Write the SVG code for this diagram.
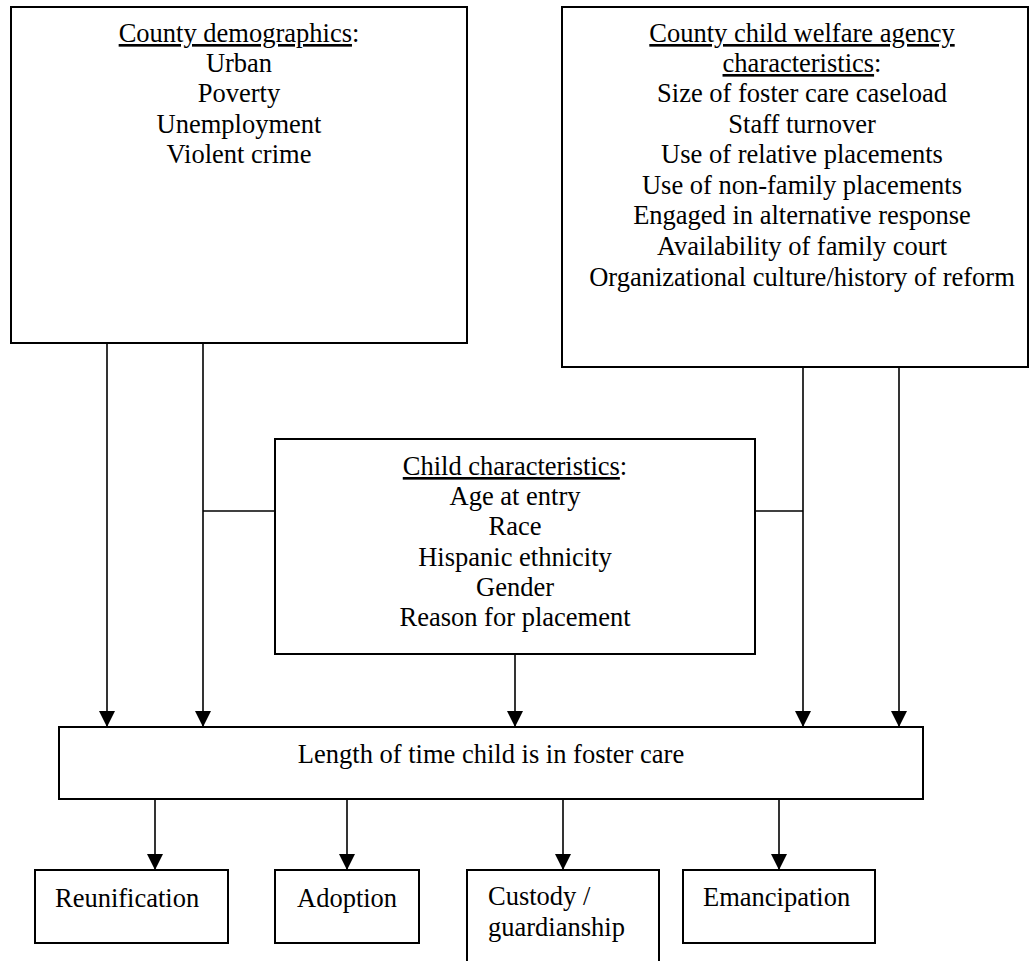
<svg xmlns="http://www.w3.org/2000/svg" width="1033" height="961" viewBox="0 0 1033 961">
<defs>
<style>
.box{fill:#fff;stroke:#000;stroke-width:2}
.t{font-family:"Liberation Serif","Times New Roman",serif;font-size:26.5px;fill:#000}
.c{text-anchor:middle}
.u{text-decoration:underline}
.ln{stroke:#000;stroke-width:1.6;fill:none}
</style>
<marker id="ah" markerWidth="16" markerHeight="16" viewBox="0 0 16 16" refX="16" refY="8" orient="auto" markerUnits="userSpaceOnUse">
<path d="M0,0 L16,8 L0,16 Z" fill="#000"/>
</marker>
</defs>
<rect width="1033" height="961" fill="#fff"/>
<g id="connectors">
<line class="ln" x1="107" y1="343" x2="107" y2="727" marker-end="url(#ah)"/>
<line class="ln" x1="203" y1="343" x2="203" y2="727" marker-end="url(#ah)"/>
<line class="ln" x1="203" y1="511" x2="275" y2="511"/>
<line class="ln" x1="515" y1="654" x2="515" y2="727" marker-end="url(#ah)"/>
<line class="ln" x1="803" y1="367" x2="803" y2="727" marker-end="url(#ah)"/>
<line class="ln" x1="755" y1="511" x2="803" y2="511"/>
<line class="ln" x1="899" y1="367" x2="899" y2="727" marker-end="url(#ah)"/>
<line class="ln" x1="155" y1="799" x2="155" y2="870" marker-end="url(#ah)"/>
<line class="ln" x1="347" y1="799" x2="347" y2="870" marker-end="url(#ah)"/>
<line class="ln" x1="563" y1="799" x2="563" y2="870" marker-end="url(#ah)"/>
<line class="ln" x1="779" y1="799" x2="779" y2="870" marker-end="url(#ah)"/>
</g>
<g id="county-demographics">
<rect class="box" x="11" y="7" width="456" height="336"/>
<text class="t c" x="239" y="42"><tspan class="u">County demographics</tspan>:</text>
<text class="t c" x="239" y="72">Urban</text>
<text class="t c" x="239" y="102">Poverty</text>
<text class="t c" x="239" y="133">Unemployment</text>
<text class="t c" x="239" y="163">Violent crime</text>
</g>
<g id="agency-characteristics">
<rect class="box" x="562" y="7" width="466" height="360"/>
<text class="t c" x="802" y="42"><tspan class="u">County child welfare agency</tspan></text>
<text class="t c" x="802" y="72"><tspan class="u">characteristics</tspan>:</text>
<text class="t c" x="802" y="102">Size of foster care caseload</text>
<text class="t c" x="802" y="133">Staff turnover</text>
<text class="t c" x="802" y="163">Use of relative placements</text>
<text class="t c" x="802" y="194">Use of non-family placements</text>
<text class="t c" x="802" y="224">Engaged in alternative response</text>
<text class="t c" x="802" y="255">Availability of family court</text>
<text class="t c" x="802" y="286">Organizational culture/history of reform</text>
</g>
<g id="child-characteristics">
<rect class="box" x="275" y="439" width="480" height="215"/>
<text class="t c" x="515" y="475"><tspan class="u">Child characteristics</tspan>:</text>
<text class="t c" x="515" y="505">Age at entry</text>
<text class="t c" x="515" y="535">Race</text>
<text class="t c" x="515" y="566">Hispanic ethnicity</text>
<text class="t c" x="515" y="596">Gender</text>
<text class="t c" x="515" y="626">Reason for placement</text>
</g>
<g id="length-of-time">
<rect class="box" x="59" y="727" width="864" height="72"/>
<text class="t c" x="491" y="763">Length of time child is in foster care</text>
</g>
<g id="reunification">
<rect class="box" x="35" y="870" width="193" height="73"/>
<text class="t" x="55" y="907">Reunification</text>
</g>
<g id="adoption">
<rect class="box" x="275" y="870" width="144" height="73"/>
<text class="t" x="297" y="907">Adoption</text>
</g>
<g id="custody">
<rect class="box" x="467" y="870" width="192" height="110"/>
<text class="t" x="488" y="905">Custody /</text>
<text class="t" x="488" y="936">guardianship</text>
</g>
<g id="emancipation">
<rect class="box" x="683" y="870" width="192" height="73"/>
<text class="t" x="703" y="906">Emancipation</text>
</g>
</svg>
